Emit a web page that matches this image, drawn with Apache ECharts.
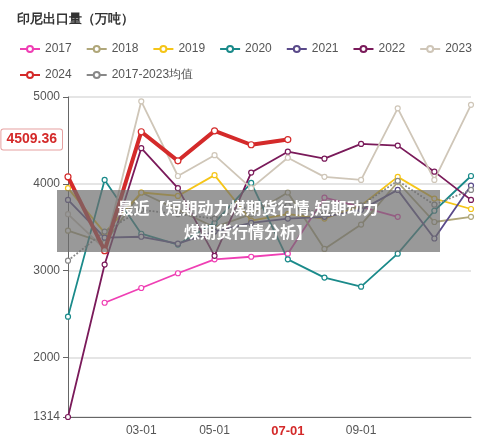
<!DOCTYPE html><html><head><meta charset="utf-8"><script src="https://cdn.jsdelivr.net/npm/echarts@6/dist/echarts.min.js"></script></head><body style="margin:0"><div id="c" style="width:500px;height:443px"></div><script>
var categories=['01-01','02-01','03-01','04-01','05-01','06-01','07-01','08-01','09-01','10-01','11-01','12-01'];
var s2017=[null,2630,2800,2970,3130,3160,3195,3840,3735,3620,null,null];
var s2018=[3460,3320,3900,3700,3500,3650,3900,3250,3530,4020,3560,3620];
var s2019=[3950,3435,3900,3860,4100,3575,3650,3600,3750,4080,3830,3710];
var s2020=[2470,4045,3425,3300,3550,4010,3130,2920,2815,3195,3690,4090];
var s2021=[3815,3380,3390,3310,3450,3550,3600,3620,3700,3930,3370,3980];
var s2022=[1314,3070,4410,3950,3170,4130,4370,4290,4460,4440,4140,3815];
var s2023=[3650,3250,4950,4090,4330,3950,4300,4080,4045,4870,4045,4910];
var s2024=[4080,3230,4600,4265,4610,4450,4509.36];
var avg=[3115,3450,3700,3650,3600,3750,3750,3650,3750,4035,3760,3930];
var yTicks=[1314,2000,3000,4000,5000];
var names=['2017','2018','2019','2020','2021','2022','2023','2024','2017-2023均值'];
var colors=['#ef3fb4','#b0a77a','#f5c518','#1a8a8a','#5a4a8a','#7a1a5a','#cfc6b8','#d42a2a','#888888'];
var data=[s2017,s2018,s2019,s2020,s2021,s2022,s2023,s2024,avg];
var series=data.map(function(d,i){
 var s={name:names[i],type:'line',data:d,symbol:'circle',symbolSize:5,showSymbol:true,
  itemStyle:{color:'#fff',borderColor:colors[i],borderWidth:1.2},
  lineStyle:{color:colors[i],width:i==7?4:1.8,type:i==8?'dotted':'solid'},z:i==7?5:2};
 if(i==7){s.symbolSize=6;s.clip=false;s.markLine={symbol:'none',silent:true,data:[{yAxis:4509.36}],lineStyle:{color:'rgba(0,0,0,0)',width:0},
  label:{show:true,position:'start',formatter:'4509.36',color:'#d42a2a',fontWeight:'bold',fontSize:14,backgroundColor:'#fff',borderColor:'#e6a0a0',borderWidth:1,padding:[3,5],borderRadius:2,distance:6}};}
 return s;});
var ch=echarts.init(document.getElementById('c'));
ch.setOption({
 animation:false,
 color:colors,
 title:{text:'印尼出口量（万吨）',left:12,top:8,textStyle:{fontSize:13,fontWeight:'bold',color:'#333'}},
 legend:{left:14,top:38,width:480,itemWidth:20,itemHeight:10,itemGap:14,icon:'path://M0,5L7,5A3,3 0 1 1 13,5A3,3 0 1 1 7,5M13,5L20,5',textStyle:{fontSize:12,color:'#555'},
  data:names.map(function(n,i){return {name:n,itemStyle:{color:'#fff',borderColor:colors[i]}}})},
 grid:{left:68,right:29,top:97,bottom:26},
 xAxis:{type:'category',data:categories,boundaryGap:false,
  axisLine:{lineStyle:{color:'#666'}},axisTick:{show:false},
  axisLabel:{interval:0,fontSize:12,color:'#555',formatter:function(v){return ['03-01','05-01','09-01'].indexOf(v)>=0?v:(v=='07-01'?'{r|'+v+'}':'');},rich:{r:{color:'#d42a2a',fontWeight:'bold',fontSize:13}}}},
 yAxis:{type:'value',min:1314,max:5000,
  axisLine:{show:true,lineStyle:{color:'#666'}},axisTick:{show:true,customValues:yTicks},
  axisLabel:{customValues:yTicks,fontSize:12,color:'#555',formatter:function(v){return String(Math.round(v));}},
  splitLine:{show:true,lineStyle:{color:'#ddd',width:1.5}}},
 series:series,
 graphic:[{type:'rect',left:57,top:190,shape:{width:383,height:62},style:{fill:'rgba(110,110,110,0.7)'},z:100},
  {type:'text',x:248,y:196,z:101,style:{text:'最近【短期动力煤期货行情,短期动力\n煤期货行情分析】',fill:'#fff',font:'bold 16px "Noto Sans CJK SC"',textAlign:'center',lineHeight:24}}]
});
</script></body></html>
